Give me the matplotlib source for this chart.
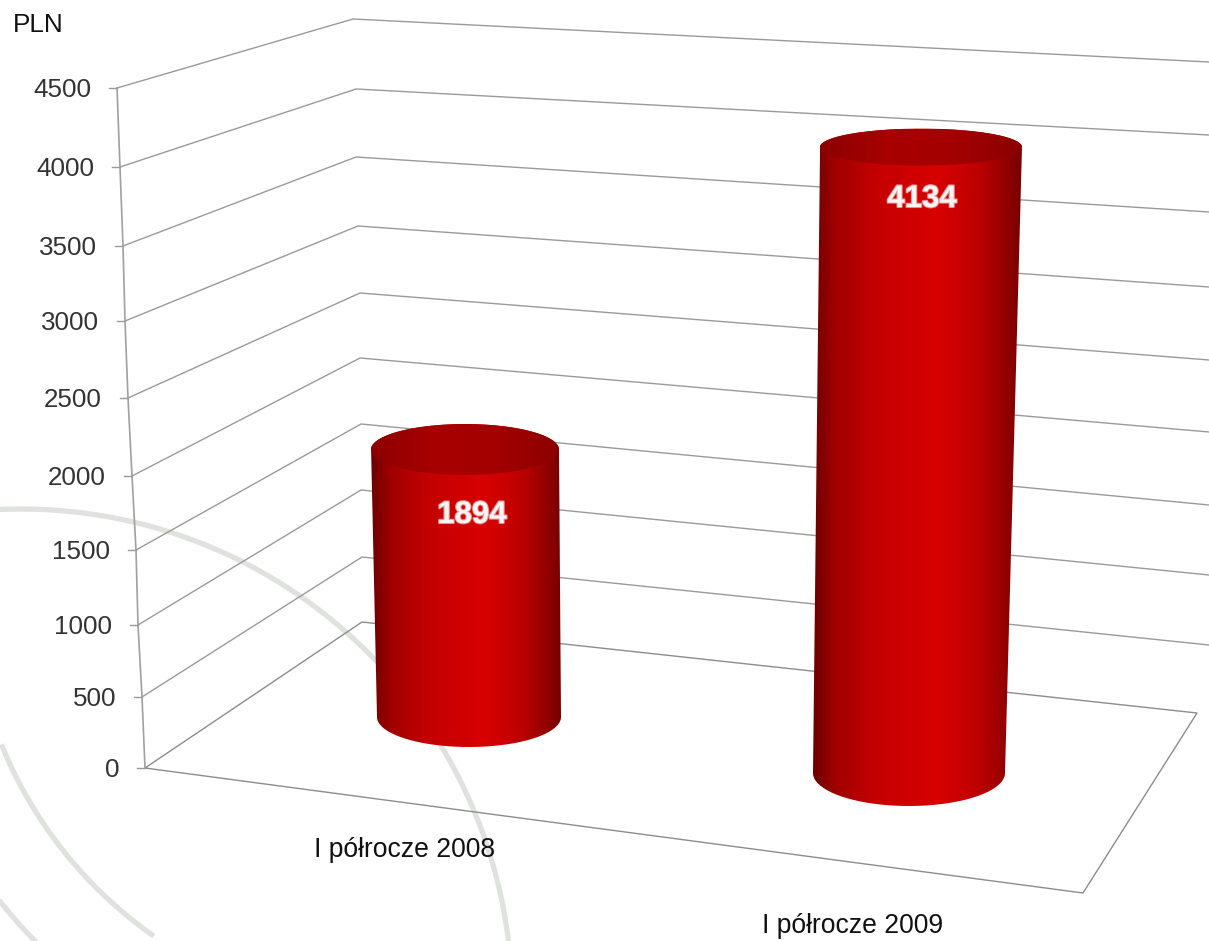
import numpy as np
import matplotlib
matplotlib.use("Agg")
import matplotlib.pyplot as plt
from matplotlib.colors import LinearSegmentedColormap
from matplotlib.patches import PathPatch
from matplotlib.path import Path
import matplotlib.patheffects as pe

plt.rcParams['font.family'] = ['Liberation Sans', 'DejaVu Sans']

categories = ["I półrocze 2008", "I półrocze 2009"]
values = [1894, 4134]
ticks = [0, 500, 1000, 1500, 2000, 2500, 3000, 3500, 4000, 4500]
unit = "PLN"

# where the ticks land on the three edges of the 3d box (pixels)
front_x = [145, 142, 138, 136, 132, 128, 125, 123, 120, 117]
front_y = [768, 697, 625, 550, 476, 398, 321, 246, 167, 88]
back_x = [362, 362, 361, 361, 360, 360, 358, 356, 356, 353]
back_y = [622, 557, 490, 424, 358, 293, 226, 157, 89, 19]
right_y = [713, 645, 575, 505, 432, 360, 287, 212, 135, 62]

# base and top geometry of each cylinder
base_cx = [469, 909]
base_cy = [717, 773]
base_w = [184, 192]
base_h = [30, 33]
top_cx = [465, 921]
top_w = [188, 202]
top_h = [25.5, 18.5]
depth_scale = [0.968, 1.006]
value_y = [515, 199]

body_cmap = LinearSegmentedColormap.from_list("body", [
    (0.0, "#6c0000"), (0.1, "#a00000"), (0.3, "#c40000"), (0.6, "#d80000"),
    (0.8, "#bc0000"), (0.95, "#8a0000"), (1.0, "#760000")])
lid_cmap = LinearSegmentedColormap.from_list("lid", ["#8c0000", "#a80000", "#a40000", "#8c0000"])


def value_height(v):
    return front_y[0] - np.interp(v, ticks, front_y)


def ring(cx, cy, r, t0, t1):
    t = np.radians(np.linspace(t0, t1, 200))
    plt.plot(cx + r * np.cos(t), cy + r * np.sin(t), color="#e0e2e0", lw=3.8, zorder=1,
             solid_capstyle="butt")


def gradient_fill(ax, path, x0, x1, y0, y1, cmap, zorder):
    grad = np.linspace(0, 1, 256).reshape(1, -1)
    im = ax.imshow(grad, extent=(x0, x1, y1, y0), aspect="auto", cmap=cmap, zorder=zorder)
    clip = PathPatch(path, transform=ax.transData, fc="none", ec="none")
    ax.add_patch(clip)
    im.set_clip_path(clip)


def draw_cylinder(ax, i):
    top_y = base_cy[i] - depth_scale[i] * value_height(values[i])
    t = np.linspace(0, np.pi, 80)
    # bottom half of the base ellipse, right to left, then up and over the lid
    bx = base_cx[i] + base_w[i] / 2 * np.cos(t)
    by = base_cy[i] + base_h[i] * np.sin(t)
    tx = top_cx[i] - top_w[i] / 2 * np.cos(t)
    ty = top_y - top_h[i] * np.sin(t)
    body = Path(np.column_stack([np.r_[bx, tx, bx[0]], np.r_[by, ty, by[0]]]), closed=False)
    x0 = min(bx.min(), tx.min())
    x1 = max(bx.max(), tx.max())
    gradient_fill(ax, body, x0, x1, ty.min() - 2, by.max() + 2, body_cmap, 3)

    t = np.linspace(0, 2 * np.pi, 160)
    lid = Path(np.column_stack([top_cx[i] + top_w[i] / 2 * np.cos(t),
                                top_y + top_h[i] * np.sin(t)]))
    gradient_fill(ax, lid, top_cx[i] - top_w[i] / 2, top_cx[i] + top_w[i] / 2,
                  top_y - top_h[i], top_y + top_h[i], lid_cmap, 4)

    txt = ax.text((top_cx[i] + base_cx[i]) / 2 + 5 + 2 * i, value_y[i], str(values[i]),
                  color="#fff4f4", fontsize=22.5, fontweight="bold", ha="center", va="center",
                  zorder=5)
    txt.set_path_effects([pe.withStroke(linewidth=1.5, foreground="#e89090")])


fig = plt.figure(figsize=(12.09, 9.41), dpi=100)
ax = fig.add_axes([0, 0, 1, 1])

# watermark rings behind the chart
ring(21, 1000, 491, -100, -1)
ring(401, 583, 431, 158, 125)
ring(401, 583, 512, 150, 130)

grid_color = "#9a9a9a"
for k, v in enumerate(ticks):
    if k == 0:
        continue
    ax.plot([front_x[k], back_x[k], 1209], [front_y[k], back_y[k], right_y[k]],
            color=grid_color, lw=1.0, zorder=2)

# floor and left edge
corner_x = 1083
corner_y = 893
right_corner_x = 1197
ax.plot([front_x[0], back_x[0], right_corner_x, corner_x, front_x[0]],
        [front_y[0], back_y[0], right_y[0], corner_y, front_y[0]],
        color="#8c8c8c", lw=1.0, zorder=2)
ax.plot(front_x, front_y, color="#a0a0a0", lw=1.2, zorder=2)

for k, v in enumerate(ticks):
    ax.plot([front_x[k] - 8, front_x[k]], [front_y[k], front_y[k]], color=grid_color, lw=1.0, zorder=2)
    ax.text(front_x[k] - 26, front_y[k] + 2, str(v), ha="right", va="center",
            fontsize=18.7, color="#333333", zorder=5)

for i in range(len(values)):
    draw_cylinder(ax, i)

ax.text(13, 25, unit, fontsize=18.8, ha="left", va="center", color="#111111")
ax.text(405, 850, categories[0], fontsize=19.1, ha="center", va="center", color="#111111")
ax.text(853, 926, categories[1], fontsize=19.1, ha="center", va="center", color="#111111")

ax.set_xlim(0, 1209)
ax.set_ylim(941, 0)
ax.axis("off")

plt.savefig("out.png", dpi=100)
